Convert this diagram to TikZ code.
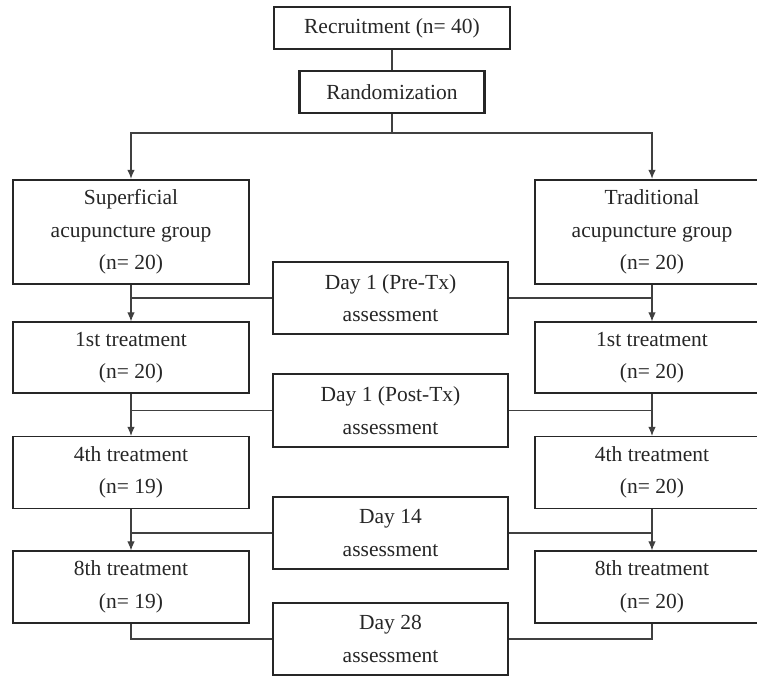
\documentclass[tikz,border=0pt]{standalone}
\usepackage{fontspec}
\setmainfont{Liberation Serif}
\usetikzlibrary{arrows.meta}
\begin{document}
\begin{tikzpicture}[x=1pt,y=-1pt,
  base/.style={draw=black!85, inner sep=0pt, align=center, text=black!85,
    font=\fontsize{21.5}{32.5}\selectfont},
  thickbox/.style={base, line width=2.4pt},
  thinbox/.style={base, line width=1.2pt},
  conn/.style={draw=black!75, line width=1.1pt},
  arr/.style={conn, -{Latex[length=9pt,width=7.5pt]}}
]
\clip (0,0) rectangle (757,676);
\useasboundingbox (0,0) rectangle (757,676);

\node[thickbox, minimum width=236pt, minimum height=42pt] (rec) at (392,28) {Recruitment (n= 40)};
\node[thickbox, minimum width=185pt, minimum height=42pt] (rand) at (392,92) {Randomization};

\node[thickbox, minimum width=236pt, minimum height=104pt] (sup) at (131,232) {Superficial\\acupuncture group\\(n= 20)};
\node[thickbox, minimum width=234pt, minimum height=104pt] (trad) at (652,232) {Traditional\\acupuncture group\\(n= 20)};

\node[thickbox, minimum width=235pt, minimum height=72pt] (d1pre) at (390.5,298) {Day 1 (Pre-Tx)\\assessment};
\node[thickbox, minimum width=235pt, minimum height=73pt] (d1post) at (390.5,410.5) {Day 1 (Post-Tx)\\assessment};
\node[thickbox, minimum width=235pt, minimum height=72pt] (d14) at (390.5,533) {Day 14\\assessment};
\node[thickbox, minimum width=235pt, minimum height=72pt] (d28) at (390.5,639) {Day 28\\assessment};

\node[thinbox, minimum width=236pt, minimum height=71pt] (t1L) at (131,357.5) {1st treatment\\(n= 20)};
\node[thinbox, minimum width=234pt, minimum height=71pt] (t1R) at (652,357.5) {1st treatment\\(n= 20)};
\node[thinbox, minimum width=236pt, minimum height=72pt] (t4L) at (131,472.5) {4th treatment\\(n= 19)};
\node[thinbox, minimum width=234pt, minimum height=72pt] (t4R) at (652,472.5) {4th treatment\\(n= 20)};
\node[thinbox, minimum width=236pt, minimum height=72pt] (t8L) at (131,587) {8th treatment\\(n= 19)};
\node[thinbox, minimum width=234pt, minimum height=72pt] (t8R) at (652,587) {8th treatment\\(n= 20)};

\coordinate (split) at (392,133);

\draw[conn] (rec.south) -- (rand.north);
\draw[conn] (rand.south) -- (split);
\draw[arr] (split) -| (sup.north);
\draw[arr] (split) -| (trad.north);

\draw[arr] (sup.south) -- (t1L.north);
\draw[arr] (trad.south) -- (t1R.north);
\draw[arr] (t1L.south) -- (t4L.north);
\draw[arr] (t1R.south) -- (t4R.north);
\draw[arr] (t4L.south) -- (t8L.north);
\draw[arr] (t4R.south) -- (t8R.north);

\draw[conn] (d1pre.west) -- (sup.south |- d1pre.west);
\draw[conn] (d1pre.east) -- (trad.south |- d1pre.east);
\draw[conn] (d1post.west) -- (t1L.south |- d1post.west);
\draw[conn] (d1post.east) -- (t1R.south |- d1post.east);
\draw[conn] (d14.west) -- (t4L.south |- d14.west);
\draw[conn] (d14.east) -- (t4R.south |- d14.east);
\draw[conn] (t8L.south) |- (d28.west);
\draw[conn] (t8R.south) |- (d28.east);
\end{tikzpicture}
\end{document}
